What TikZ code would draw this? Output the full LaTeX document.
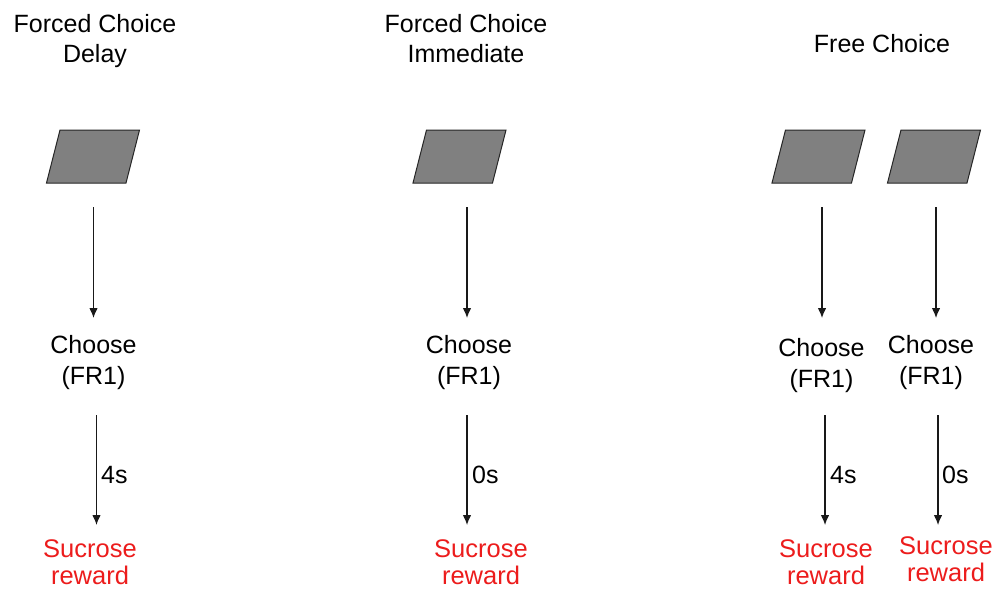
\documentclass[tikz,border=0pt]{standalone}
\usepackage{fontspec}
\setmainfont{Liberation Sans}
\usetikzlibrary{arrows.meta}
\definecolor{boxgray}{RGB}{128,128,128}
\definecolor{sred}{RGB}{236,28,28}
\newcommand\cuebox[3]{%
  \coordinate (#1) at (#2,#3);
  \filldraw[cue, shift={(#1)}] (-33,-26.5) -- (46.5,-26.5) -- (33,26.5) -- (-46.5,26.5) -- cycle;}
\begin{document}
\begin{tikzpicture}[x=1pt,y=-1pt,
  title/.style={font=\fontsize{25}{30}\selectfont, align=center, inner sep=0pt, anchor=base},
  txt/.style={font=\fontsize{25}{31}\selectfont, align=center, inner sep=0pt, anchor=base},
  rew/.style={font=\fontsize{25.5}{27}\selectfont, align=center, inner sep=0pt, anchor=base, text=sred},
  cue/.style={fill=boxgray, draw=black!85, line width=1pt, line join=miter},
  conn/.style={-{Latex[length=10pt,width=8.5pt]}, line width=1.1pt, black!90},
  lbl/.style={font=\fontsize{25}{30}\selectfont, anchor=base west, inner sep=0pt}]
\useasboundingbox (0,0) rectangle (997,603);

% titles (anchor = baseline of last line)
\node[title] (t1) at (95,62) {Forced Choice\\Delay};
\node[title] (t2) at (466,62) {Forced Choice\\Immediate};
\node[title] (t3) at (882,52) {Free Choice};

% cues
\cuebox{c1}{93}{156.5}
\cuebox{c2}{459.5}{156.5}
\cuebox{c3}{818.5}{156.5}
\cuebox{c4}{934}{156.5}

% choose nodes
\node[txt] (h1) at (93.5,384) {Choose\\(FR1)};
\node[txt] (h2) at (469,384) {Choose\\(FR1)};
\node[txt] (h3) at (821.5,387) {Choose\\(FR1)};
\node[txt] (h4) at (931,384) {Choose\\(FR1)};

% rewards
\node[rew] (r1) at (90,584) {Sucrose\\reward};
\node[rew] (r2) at (481,584) {Sucrose\\reward};
\node[rew] (r3) at (826,584) {Sucrose\\reward};
\node[rew] (r4) at (946,581) {Sucrose\\reward};

% arrow end points
\coordinate (a1s) at (93.5,207); \coordinate (a1e) at (93.5,318);
\coordinate (a2s) at (467,207);  \coordinate (a2e) at (467,318);
\coordinate (a3s) at (822,207);  \coordinate (a3e) at (822,318);
\coordinate (a4s) at (936,207);  \coordinate (a4e) at (936,318);
\coordinate (b1s) at (96.5,415); \coordinate (b1e) at (96.5,525);
\coordinate (b2s) at (467,415);  \coordinate (b2e) at (467,525);
\coordinate (b3s) at (825,415);  \coordinate (b3e) at (825,525);
\coordinate (b4s) at (938,415);  \coordinate (b4e) at (938,525);

\draw[conn] (a1s) -- (a1e);
\draw[conn] (a2s) -- (a2e);
\draw[conn] (a3s) -- (a3e);
\draw[conn] (a4s) -- (a4e);
\draw[conn] (b1s) -- (b1e);
\draw[conn] (b2s) -- (b2e);
\draw[conn] (b3s) -- (b3e);
\draw[conn] (b4s) -- (b4e);

% delay labels
\node[lbl] (d1) at (101,483) {4s};
\node[lbl] (d2) at (472,483) {0s};
\node[lbl] (d3) at (830,483) {4s};
\node[lbl] (d4) at (942,483) {0s};
\end{tikzpicture}
\end{document}
